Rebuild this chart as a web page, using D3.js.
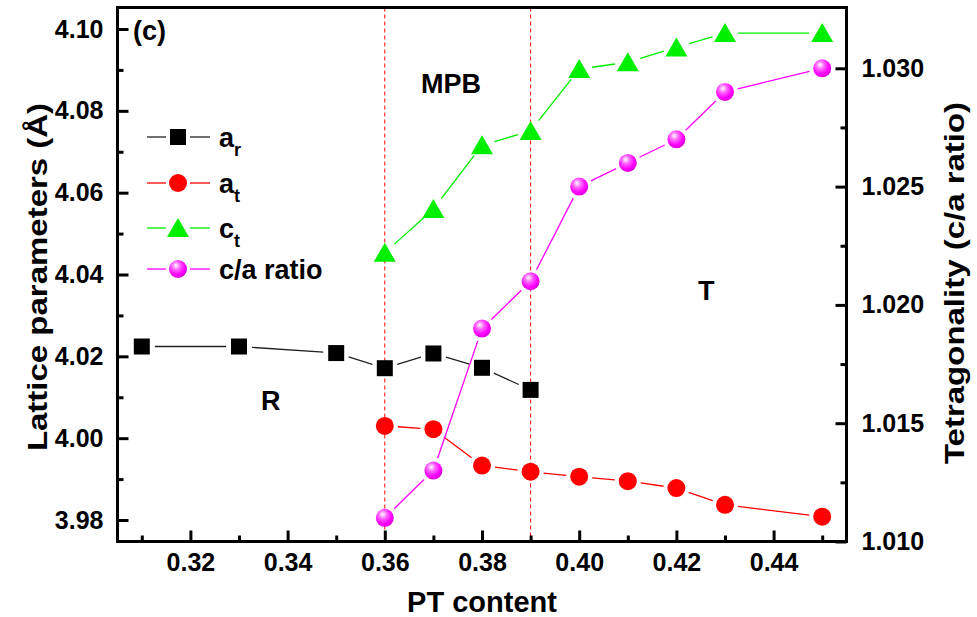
<!DOCTYPE html>
<html>
<head>
<meta charset="utf-8">
<script src="https://cdn.jsdelivr.net/npm/d3@7"></script>
<style>
  body { margin: 0; background: #fff; }
  text { font-family: "Liberation Sans", Arial, Helvetica, sans-serif; font-weight: bold; fill: #000; }
</style>
</head>
<body>
<svg id="chart" width="977" height="617"></svg>
<script>
// Composition (PT content) for each phase
const arX = [0.31, 0.33, 0.35, 0.36, 0.37, 0.38, 0.39];
const tX  = [0.36, 0.37, 0.38, 0.39, 0.40, 0.41, 0.42, 0.43, 0.45];

// Lattice parameters (Å)
const arValues = [4.0224, 4.0224, 4.0208, 4.0171, 4.0207, 4.0172, 4.0118];
const atValues = [4.0030, 4.0022, 3.9933, 3.9918, 3.9906, 3.9895, 3.9878, 3.9837, 3.9808];
const ctValues = [4.0453, 4.0560, 4.0716, 4.0751, 4.0902, 4.0919, 4.0955, 4.0990, 4.0990];

// Tetragonality (c/a)
const caValues = [1.011, 1.013, 1.019, 1.021, 1.025, 1.026, 1.027, 1.029, 1.030];

// Axis ticks
const xMajor = [0.32, 0.34, 0.36, 0.38, 0.40, 0.42, 0.44];
const xMinor = [0.31, 0.33, 0.35, 0.37, 0.39, 0.41, 0.43, 0.45];
const leftMajor = [3.98, 4.00, 4.02, 4.04, 4.06, 4.08, 4.10];
const leftMinor = [3.99, 4.01, 4.03, 4.05, 4.07, 4.09];
const rightMajor = [1.010, 1.015, 1.020, 1.025, 1.030];
const rightMinor = [1.0125, 1.0175, 1.0225, 1.0275];

// Phase boundaries of the MPB region
const boundaries = [0.36, 0.39];

const svg = d3.select("#chart");
const plot = { left: 117.5, right: 846.5, top: 7.5, bottom: 541.5 };

const x = d3.scaleLinear().domain([0.305, 0.455]).range([plot.left, plot.right]);
const yL = d3.scaleLinear().domain([3.98, 4.10]).range([520, 29]);
const yR = d3.scaleLinear().domain([1.010, 1.030]).range([541.5, 68.3]);

// Sphere shading for c/a markers
const defs = svg.append("defs");
const grad = defs.append("radialGradient").attr("id", "sphere")
  .attr("cx", "40%").attr("cy", "35%").attr("r", "65%").attr("fx", "38%").attr("fy", "30%");
grad.append("stop").attr("offset", "0%").attr("stop-color", "#ffffff");
grad.append("stop").attr("offset", "35%").attr("stop-color", "#ff66ff");
grad.append("stop").attr("offset", "75%").attr("stop-color", "#ff00ff");
grad.append("stop").attr("offset", "100%").attr("stop-color", "#dd00dd");

// Dashed phase boundary lines
svg.append("g").selectAll("line").data(boundaries).join("line")
  .attr("x1", d => x(d)).attr("x2", d => x(d))
  .attr("y1", plot.top).attr("y2", plot.bottom)
  .attr("stroke", "#ff0000").attr("stroke-width", 1)
  .attr("stroke-dasharray", "4,3");

// Connecting segments that stop short of each marker
function segments(xs, ys, xScale, yScale, color, gap) {
  const pts = xs.map((v, i) => [xScale(v), yScale(ys[i])]);
  const segs = [];
  for (let i = 0; i < pts.length - 1; i++) {
    const [x1, y1] = pts[i], [x2, y2] = pts[i + 1];
    const len = Math.hypot(x2 - x1, y2 - y1);
    if (len <= 2 * gap) continue;
    const ux = (x2 - x1) / len, uy = (y2 - y1) / len;
    segs.push([x1 + ux * gap, y1 + uy * gap, x2 - ux * gap, y2 - uy * gap]);
  }
  svg.append("g").selectAll("line").data(segs).join("line")
    .attr("x1", d => d[0]).attr("y1", d => d[1]).attr("x2", d => d[2]).attr("y2", d => d[3])
    .attr("stroke", color).attr("stroke-width", 1.3);
}

segments(arX, arValues, x, yL, "#222", 13);
segments(tX, atValues, x, yL, "#ff0000", 13);
segments(tX, ctValues, x, yL, "#00ee00", 13);
segments(tX, caValues, x, yR, "#ff00ff", 13);

// Marker shapes
function square(g, cx, cy) {
  g.append("rect").attr("x", cx - 8).attr("y", cy - 8).attr("width", 16).attr("height", 16).attr("fill", "#000");
}
function circle(g, cx, cy) {
  g.append("circle").attr("cx", cx).attr("cy", cy).attr("r", 9).attr("fill", "#ff0000");
}
function triangle(g, cx, cy) {
  g.append("path").attr("d", `M${cx},${cy - 10} L${cx + 11},${cy + 9} L${cx - 11},${cy + 9} Z`).attr("fill", "#00ee00");
}
function sphere(g, cx, cy) {
  g.append("circle").attr("cx", cx).attr("cy", cy).attr("r", 9).attr("fill", "url(#sphere)");
}

const marks = svg.append("g");
arX.forEach((v, i) => square(marks, x(v), yL(arValues[i])));
tX.forEach((v, i) => circle(marks, x(v), yL(atValues[i])));
tX.forEach((v, i) => triangle(marks, x(v), yL(ctValues[i])));
tX.forEach((v, i) => sphere(marks, x(v), yR(caValues[i])));

// Axes with inward ticks
const fmt2 = d3.format(".2f"), fmt3 = d3.format(".3f");
function styleAxis(g) {
  g.select(".domain").remove();
  g.selectAll(".tick line").attr("stroke", "#000").attr("stroke-width", 3);
  g.selectAll(".tick text").style("font-size", "25px").style("font-weight", "bold")
    .style("font-family", "'Liberation Sans', Arial, sans-serif");
}

svg.append("g").attr("transform", `translate(0,${plot.bottom})`)
  .call(d3.axisBottom(x).tickValues(xMajor).tickFormat(fmt2).tickSize(-11).tickPadding(12))
  .call(styleAxis);
svg.append("g").attr("transform", `translate(0,${plot.bottom})`)
  .call(d3.axisBottom(x).tickValues(xMinor).tickFormat("").tickSize(-6))
  .call(styleAxis);

svg.append("g").attr("transform", `translate(${plot.left},0)`)
  .call(d3.axisLeft(yL).tickValues(leftMajor).tickFormat(fmt2).tickSize(-11).tickPadding(14))
  .call(styleAxis);
svg.append("g").attr("transform", `translate(${plot.left},0)`)
  .call(d3.axisLeft(yL).tickValues(leftMinor).tickFormat("").tickSize(-6))
  .call(styleAxis);

svg.append("g").attr("transform", `translate(${plot.right},0)`)
  .call(d3.axisRight(yR).tickValues(rightMajor).tickFormat(fmt3).tickSize(-11).tickPadding(15))
  .call(styleAxis);
svg.append("g").attr("transform", `translate(${plot.right},0)`)
  .call(d3.axisRight(yR).tickValues(rightMinor).tickFormat("").tickSize(-6))
  .call(styleAxis);

// Frame
svg.append("rect").attr("x", plot.left).attr("y", plot.top)
  .attr("width", plot.right - plot.left).attr("height", plot.bottom - plot.top)
  .attr("fill", "none").attr("stroke", "#000").attr("stroke-width", 3);

// Axis titles (the vertical ones use a slightly condensed glyph height)
svg.append("text").attr("x", (plot.left + plot.right) / 2).attr("y", 612)
  .attr("text-anchor", "middle").style("font-size", "29px").text("PT content");
svg.append("text").attr("transform", "translate(47,277) rotate(-90) scale(1,0.82)")
  .attr("text-anchor", "middle").style("font-size", "33px").text("Lattice parameters (Å)");
svg.append("text").attr("transform", "translate(964,283) rotate(-90) scale(1,0.82)")
  .attr("text-anchor", "middle").style("font-size", "33px").text("Tetragonality (c/a ratio)");

// Annotations
svg.append("text").attr("x", 133).attr("y", 40).style("font-size", "27px").text("(c)");
svg.append("text").attr("x", 421).attr("y", 93).style("font-size", "27px").text("MPB");
svg.append("text").attr("x", 698).attr("y", 300).style("font-size", "27px").text("T");
svg.append("text").attr("x", 261).attr("y", 410).style("font-size", "27px").text("R");

// Legend
const legend = [
  { base: "a", sub: "r", draw: square, color: "#222" },
  { base: "a", sub: "t", draw: circle, color: "#ff0000" },
  { base: "c", sub: "t", draw: triangle, color: "#00ee00" },
  { base: "c/a ratio", sub: "", draw: sphere, color: "#ff00ff" }
];
const legendY = [137, 183, 228, 269];
const lg = svg.append("g");
legend.forEach((d, i) => {
  const y = legendY[i];
  lg.append("line").attr("x1", 147).attr("x2", 166).attr("y1", y).attr("y2", y)
    .attr("stroke", d.color).attr("stroke-width", 1.3);
  lg.append("line").attr("x1", 190).attr("x2", 210).attr("y1", y).attr("y2", y)
    .attr("stroke", d.color).attr("stroke-width", 1.3);
  d.draw(lg, 178, y);
  const t = lg.append("text").attr("x", 219).attr("y", y + 10).style("font-size", "27px");
  t.append("tspan").text(d.base);
  if (d.sub) t.append("tspan").attr("dy", 9).style("font-size", "18px").text(d.sub);
});
</script>
</body>
</html>
